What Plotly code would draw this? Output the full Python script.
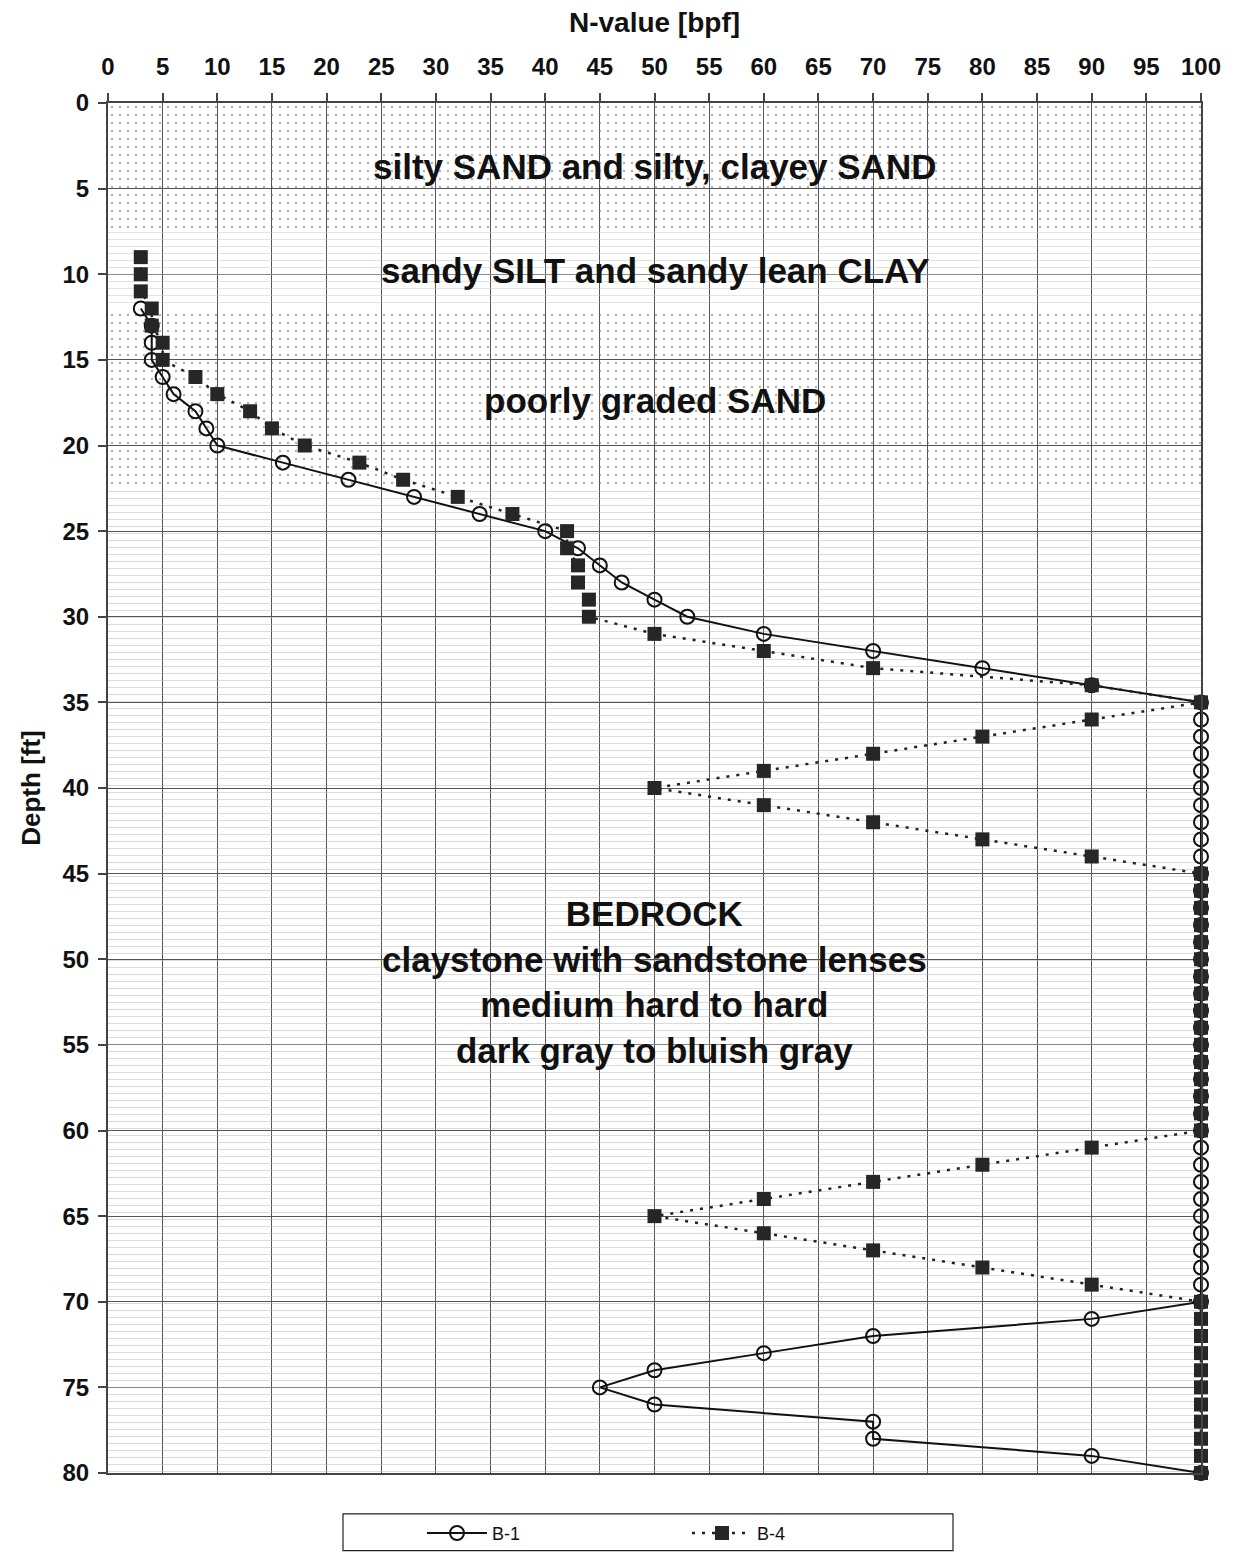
import plotly.graph_objects as go

# ---------------- data ----------------
b1_depth = [12, 13, 14, 15, 16, 17, 18, 19, 20, 21, 22, 23, 24, 25, 26, 27, 28, 29, 30,
            31, 32, 33, 34, 35, 36, 37, 38, 39, 40, 41, 42, 43, 44, 45, 46, 47, 48, 49, 50,
            51, 52, 53, 54, 55, 56, 57, 58, 59, 60, 61, 62, 63, 64, 65, 66, 67, 68, 69, 70,
            71, 72, 73, 74, 75, 76, 77, 78, 79, 80]
b1_n = [3, 4, 4, 4, 5, 6, 8, 9, 10, 16, 22, 28, 34, 40, 43, 45, 47, 50, 53,
        60, 70, 80, 90, 100, 100, 100, 100, 100, 100, 100, 100, 100, 100, 100, 100, 100, 100, 100, 100,
        100, 100, 100, 100, 100, 100, 100, 100, 100, 100, 100, 100, 100, 100, 100, 100, 100, 100, 100, 100,
        90, 70, 60, 50, 45, 50, 70, 70, 90, 100]

b4_depth = [9, 10, 11, 12, 13, 14, 15, 16, 17, 18, 19, 20, 21, 22, 23, 24, 25, 26, 27, 28, 29, 30,
            31, 32, 33, 34, 35, 36, 37, 38, 39, 40, 41, 42, 43, 44, 45, 46, 47, 48, 49, 50,
            51, 52, 53, 54, 55, 56, 57, 58, 59, 60, 61, 62, 63, 64, 65, 66, 67, 68, 69, 70,
            71, 72, 73, 74, 75, 76, 77, 78, 79, 80]
b4_n = [3, 3, 3, 4, 4, 5, 5, 8, 10, 13, 15, 18, 23, 27, 32, 37, 42, 42, 43, 43, 44, 44,
        50, 60, 70, 90, 100, 90, 80, 70, 60, 50, 60, 70, 80, 90, 100, 100, 100, 100, 100, 100,
        100, 100, 100, 100, 100, 100, 100, 100, 100, 100, 90, 80, 70, 60, 50, 60, 70, 80, 90, 100,
        100, 100, 100, 100, 100, 100, 100, 100, 100, 100]

# soil layers: top depth, bottom depth, pattern
layer_top = [0, 7.5, 12, 22.5]
layer_bottom = [7.5, 12, 22.5, 80]
layer_pattern = ["dots", "dashes", "dots", "lines"]

labels = ["silty SAND and silty, clayey SAND",
          "sandy SILT and sandy lean CLAY",
          "poorly graded SAND",
          "BEDROCK<br>claystone with sandstone lenses<br>medium hard to hard<br>dark gray to bluish gray"]
label_depth = [3.7, 9.8, 17.4, 51.35]

FONT = "Arial"

fig = go.Figure()

pat_style = {
    "dots": dict(shape=".", size=8, solidity=0.08, fgcolor="#666666", bgcolor="rgba(0,0,0,0)"),
    "dashes": dict(shape="-", size=7, solidity=0.14, fgcolor="#c4c4c4", bgcolor="rgba(0,0,0,0)"),
    "lines": dict(shape="-", size=7, solidity=0.15, fgcolor="#b8b8b8", bgcolor="rgba(0,0,0,0)"),
}
for t, b, p in zip(layer_top, layer_bottom, layer_pattern):
    fig.add_trace(go.Scatter(
        x=[0, 100, 100, 0, 0], y=[t, t, b, b, t], mode="none", fill="toself",
        fillcolor="rgba(0,0,0,0)", fillpattern=pat_style[p],
        showlegend=False, hoverinfo="skip"))

fig.add_trace(go.Scatter(
    x=b1_n, y=b1_depth, name="B-1", mode="lines+markers", cliponaxis=False,
    line=dict(color="#111111", width=2),
    marker=dict(symbol="circle-open", size=14, color="#111111", line=dict(width=2))))
fig.add_trace(go.Scatter(
    x=b4_n, y=b4_depth, name="B-4", mode="lines+markers", cliponaxis=False,
    line=dict(color="#222222", width=2.5, dash="3px,7px"),
    marker=dict(symbol="square", size=14, color="#262626", line=dict(width=0))))

for txt, d in zip(labels, label_depth):
    fig.add_annotation(x=50, y=d, xref="x", yref="y", text="<b>" + txt.replace("<br>", "</b><br><b>") + "</b>",
                       showarrow=False,
                       font=dict(family=FONT, size=35, color="#111111"),
                       align="center")

axis_common = dict(
    showgrid=True, gridcolor="#555555", gridwidth=1.2,
    showline=True, linecolor="#444444", linewidth=2, mirror=True,
    ticks="outside", ticklen=8, tickcolor="#444444", tickwidth=1.5,
    tickfont=dict(family=FONT, size=24, color="#111111", weight="bold"), zeroline=False,
)

fig.update_xaxes(**axis_common, range=[0, 100], dtick=5, side="top", ticklabelstandoff=8,
                 title=dict(text="<b>N-value [bpf]</b>",
                            font=dict(family=FONT, size=28, color="#111111"),
                            standoff=13))
fig.update_yaxes(**axis_common, range=[80, 0], dtick=5, ticklabelstandoff=4,
                 title=dict(text="<b>Depth [ft]</b>",
                            font=dict(family=FONT, size=26, color="#111111"),
                            standoff=14))

# legend frame
fig.add_shape(type="rect", xref="paper", yref="paper",
              x0=(343 - 108) / 1093, x1=(953 - 108) / 1093,
              y0=-(1558 - 1480) / 1377, y1=-(1521 - 1480) / 1377,
              line=dict(color="#222222", width=1.2), fillcolor="rgba(0,0,0,0)")

fig.update_layout(
    width=1233, height=1564,
    margin=dict(l=108, r=32, t=103, b=84),
    paper_bgcolor="white", plot_bgcolor="white",
    font=dict(family=FONT, color="#111111"),
    legend=dict(orientation="h", x=(422 - 108) / 1093, xanchor="left",
                y=-(1522 - 1480) / 1377, yanchor="top",
                borderwidth=0, bgcolor="rgba(0,0,0,0)", entrywidth=190,
                font=dict(family=FONT, size=18, color="#111111"), itemwidth=60),
)

fig.write_html("out.html")
